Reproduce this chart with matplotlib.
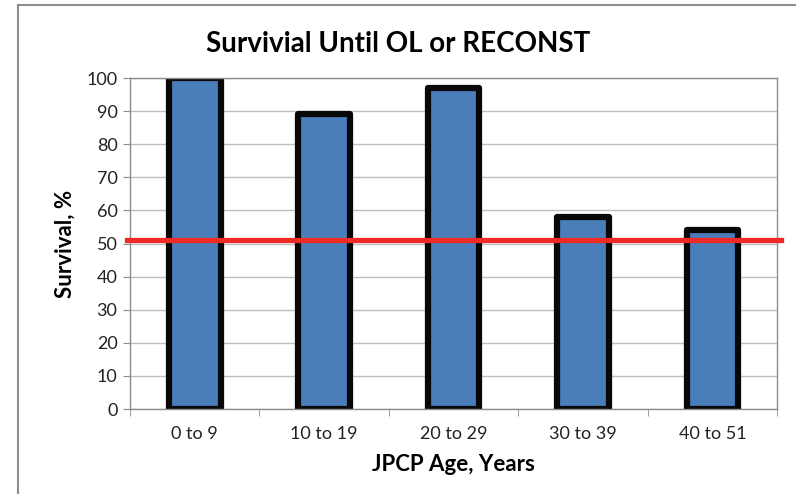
import numpy as np
import matplotlib.pyplot as plt
from matplotlib.lines import Line2D

categories = ["0 to 9", "10 to 19", "20 to 29", "30 to 39", "40 to 51"]
survival = [100, 89, 97, 58, 54]
threshold = 51

plt.rcParams['font.family'] = ['Lato', 'DejaVu Sans']

fig = plt.figure(figsize=(7.96, 4.94), dpi=100)
ax = fig.add_axes([0.1633, 0.172, 0.813, 0.670])

x = np.arange(len(categories))
ax.bar(x, survival, width=0.4, color='#4A7EBB', edgecolor='#080808',
       linewidth=4.5, joinstyle='round', zorder=2)
ax.axhline(threshold, xmin=-0.005, xmax=1.006, color='#EE2A24',
           linewidth=3.8, clip_on=False, zorder=3)

ax.set_xlim(-0.5, len(categories) - 0.5)
ax.set_ylim(0, 100)
ax.set_yticks(np.arange(0, 101, 10))
ax.set_xticks(x)
ax.set_xticklabels(categories)
ax.set_xticks(np.arange(-0.5, len(categories), 1), minor=True)
ax.tick_params(axis='x', which='major', length=0, pad=12, labelsize=13, labelcolor='#222222')
ax.tick_params(axis='x', which='minor', length=5, color='#8c8c8c', direction='out')
ax.tick_params(axis='y', length=5, color='#8c8c8c', labelsize=13, labelcolor='#222222', pad=4)
ax.yaxis.grid(True, color='#BFBFBF', linewidth=1)
ax.set_axisbelow(True)
for s in ax.spines.values():
    s.set_color('#8c8c8c')
    s.set_linewidth(1)

# Title is centred on the whole chart, not on the plot area
fig.suptitle("Survivial Until OL or RECONST", fontsize=20, fontweight='bold',
             x=0.5, y=1 - 52 / 494, va='baseline')
ax.set_xlabel("JPCP Age, Years", fontsize=16, fontweight='bold', labelpad=9)
ax.set_ylabel("Survival, %", fontsize=16, fontweight='bold', labelpad=8)

# outer chart border (top and left visible)
W, H = 796, 494
fig.add_artist(Line2D([18 / W, 1], [1 - 5 / H, 1 - 5 / H], color='#8c8c8c', linewidth=1.5))
fig.add_artist(Line2D([18 / W, 18 / W], [0, 1 - 5 / H], color='#8c8c8c', linewidth=1.5))

fig.savefig("out.png", dpi=100)
